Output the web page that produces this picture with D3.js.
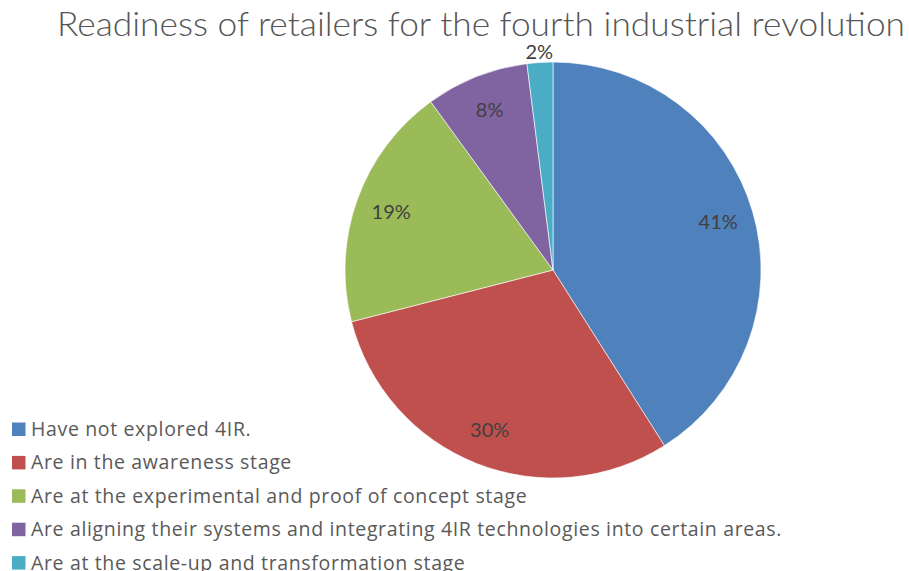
<!DOCTYPE html>
<html>
<head>
<meta charset="utf-8">
<script src="https://cdn.jsdelivr.net/npm/d3@7"></script>
<style>
  html, body { margin: 0; padding: 0; background: #ffffff; }
  svg { display: block; font-family: Lato, "Open Sans", sans-serif; }
</style>
</head>
<body>
<svg id="chart" width="909" height="571"></svg>
<script>
// Survey shares of retailers by 4IR readiness stage
const categories = [
  "Have not explored 4IR.",
  "Are in the awareness stage",
  "Are at the experimental and proof of concept stage",
  "Are aligning their systems and integrating 4IR technologies into certain areas.",
  "Are at the scale-up and transformation stage"
];
const shares = [41, 30, 19, 8, 2];
const sliceColors = ["#4F81BD", "#C0504D", "#9BBB59", "#8064A2", "#4BACC6"];
const chartTitle = "Readiness of retailers for the fourth industrial revolution";

const svg = d3.select("#chart");
const cx = 553, cy = 270, radius = 208;

// Title
svg.append("text")
  .attr("x", 57)
  .attr("y", 36)
  .attr("textLength", 848)
  .attr("lengthAdjust", "spacingAndGlyphs")
  .attr("font-size", 33)
  .attr("font-weight", 300)
  .attr("fill", "#555555")
  .text(chartTitle);

const data = categories.map((c, i) => ({ name: c, value: shares[i], color: sliceColors[i] }));

const pie = d3.pie().value(d => d.value).sort(null);
const arcs = pie(data);
const arc = d3.arc().innerRadius(0).outerRadius(radius);
const labelArc = d3.arc().innerRadius(172).outerRadius(172);
const outerLabelArc = d3.arc().innerRadius(219).outerRadius(219);

const g = svg.append("g").attr("transform", `translate(${cx},${cy})`);

g.selectAll("path.slice")
  .data(arcs)
  .enter().append("path")
  .attr("class", "slice")
  .attr("d", arc)
  .attr("fill", d => d.data.color)
  .attr("stroke", "#ffffff")
  .attr("stroke-width", 0.6);

// Percentage labels: inside the slice, or just outside for very thin slices
g.selectAll("text.pct")
  .data(arcs)
  .enter().append("text")
  .attr("class", "pct")
  .attr("transform", d => {
    const p = (d.data.value < 5 ? outerLabelArc : labelArc).centroid(d);
    return `translate(${p[0]},${p[1]})`;
  })
  .attr("text-anchor", "middle")
  .attr("dy", "0.36em")
  .attr("font-size", 20)
  .attr("fill", "#404040")
  .text(d => d.data.value + "%");

// Legend
const legend = svg.append("g").attr("transform", "translate(12,429)");
const rowGap = 33.4;
const rows = legend.selectAll("g.item")
  .data(data)
  .enter().append("g")
  .attr("class", "item")
  .attr("transform", (d, i) => `translate(0,${i * rowGap})`);

rows.append("rect")
  .attr("x", 0)
  .attr("y", -6.5)
  .attr("width", 13.5)
  .attr("height", 13.5)
  .attr("fill", d => d.color);

rows.append("text")
  .attr("x", 19)
  .attr("y", 0)
  .attr("dy", "0.36em")
  .attr("font-family", "'Open Sans', sans-serif")
  .attr("font-size", 19.5)
  .attr("letter-spacing", 0.65)
  .attr("fill", "#595959")
  .text(d => d.name);
</script>
</body>
</html>
